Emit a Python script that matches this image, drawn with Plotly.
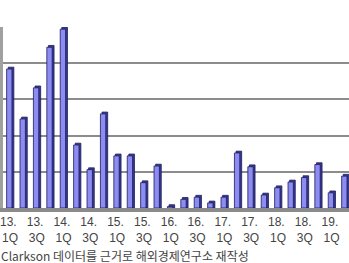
import plotly.graph_objects as go

quarters = [f"{y}.{q}Q" for y in range(13, 20) for q in range(1, 5)][:26]
values = [19.2, 12.3, 16.6, 22.2, 24.7, 8.7, 5.3, 13.0, 7.2,
          7.2, 3.5, 5.8, 0.2, 1.2, 1.5, 0.7, 1.5,
          7.6, 5.7, 1.8, 2.8, 3.6, 4.2, 6.0, 2.1, 4.4]
tick_vals = quarters[::2]
tick_text = [q.replace(".", ". <br>") for q in tick_vals]
source_note = "Clarkson 데이터를 근거로 해외경제연구소 재작성"

fig = go.Figure()
# side / depth face (fake 3D)
fig.add_trace(go.Bar(
    x=quarters, y=[v + 0.25 for v in values],
    width=0.42, offset=-0.13,
    marker=dict(color="#3a3a8c", line=dict(color="#1c1c5e", width=0.8)),
    hoverinfo="skip", showlegend=False,
))
# front face
fig.add_trace(go.Bar(
    x=quarters, y=values,
    width=0.4, offset=-0.25,
    marker=dict(color="#8c8cf2", line=dict(color="#1c1c5e", width=0.8)),
    showlegend=False,
))

fig.update_layout(
    width=349, height=263,
    margin=dict(l=3, r=0, t=27, b=55),
    paper_bgcolor="white", plot_bgcolor="white",
    barmode="overlay",
    font=dict(family="Liberation Sans, Noto Sans CJK KR, sans-serif", color="#444444", size=12),
    xaxis=dict(
        type="category", range=[-0.52, 25.3],
        tickmode="array", tickvals=tick_vals, ticktext=tick_text,
        tickfont=dict(size=12, color="#444444"),
        showline=True, linecolor="#8a8a8a", linewidth=4,
        showgrid=False, ticks="", ticklabelstandoff=0,
    ),
    yaxis=dict(
        range=[0, 25], dtick=5, showticklabels=False,
        showgrid=True, gridcolor="#8c8c8c", gridwidth=1.5,
        showline=True, linecolor="#a0a0a0", linewidth=3,
        zeroline=False, ticks="",
    ),
    annotations=[dict(
        text=source_note, xref="paper", yref="paper",
        x=-0.012, y=0, xanchor="left", yanchor="top", yshift=-37,
        showarrow=False, font=dict(size=12, color="#444444",
                                   family="Noto Sans CJK KR, sans-serif"),
    )],
)

fig.write_html("out.html")
